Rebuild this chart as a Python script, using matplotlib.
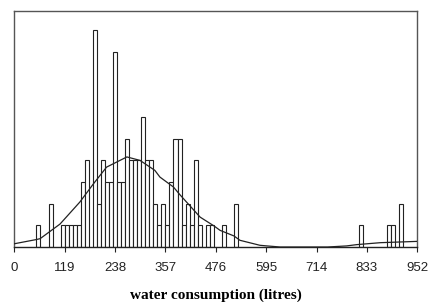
#!/usr/bin/env python3
import matplotlib
matplotlib.use('Agg')
import matplotlib.pyplot as plt
import numpy as np

# histogram: bin number (bin centre = index * bin_width) and count
bin_width = 9.52
bin_index = [6, 9, 12, 13, 14, 15, 16, 17, 18, 20, 21, 22, 23, 24, 25, 26, 27, 28,
             29, 30, 31, 32, 33, 34, 35, 36, 37, 38, 39, 40, 41, 42, 43, 44, 45, 46,
             48, 49, 52, 55, 86, 93, 94, 96]
counts = [1, 2, 1, 1, 1, 1, 1, 3, 4, 10, 2, 4, 3, 3, 9, 3, 3, 5,
          4, 4, 4, 6, 4, 4, 2, 1, 2, 1, 3, 5, 5, 1, 2, 1, 4, 1,
          1, 1, 1, 2, 1, 1, 1, 2]

# fitted curve (litres, height in counts)
curve_x = [0, 51, 61, 108, 155, 187, 218, 266, 297, 332, 344, 376, 391, 439,
           472, 486, 519, 533, 580, 597, 628, 714, 740, 785, 809, 865, 952]
curve_y = [0.15, 0.34, 0.385, 1.06, 2.08, 2.92, 3.69, 4.16, 4.0, 3.54, 3.23, 2.77,
           2.42, 1.38, 0.97, 0.77, 0.51, 0.31, 0.08, 0.05, 0.0, 0.0, 0.0, 0.05,
           0.11, 0.2, 0.26]

tick_values = [0, 119, 238, 357, 476, 595, 714, 833, 952]

fig = plt.figure(figsize=(4.28, 3.02), dpi=100)
ax = fig.add_axes([0.0334, 0.1821, 0.9416, 0.7815])

centres = np.array(bin_index) * bin_width
ax.bar(centres, counts, width=bin_width, color='white', edgecolor='#222222',
       linewidth=0.8, zorder=2)
ax.plot(curve_x, curve_y, color='#222222', linewidth=0.9, zorder=3)

ax.set_xlim(0, 952)
ax.set_ylim(0, 10.9)
ax.set_yticks([])
ax.set_xticks(tick_values)
ax.set_xticklabels([str(v) for v in tick_values], fontsize=9.5,
                   family='Liberation Sans', color='#222222')
ax.tick_params(axis='x', direction='out', length=3.5, width=0.8, pad=7.5, color='#222222')

for side in ['left', 'top', 'right']:
    ax.spines[side].set_color('#555555')
    ax.spines[side].set_linewidth(1.0)
ax.spines['bottom'].set_color('#222222')
ax.spines['bottom'].set_linewidth(1.0)

ax.set_xlabel('water consumption (litres)', fontsize=11, family='Liberation Serif',
              fontweight='bold', labelpad=10)

fig.savefig('out.png', dpi=100)
